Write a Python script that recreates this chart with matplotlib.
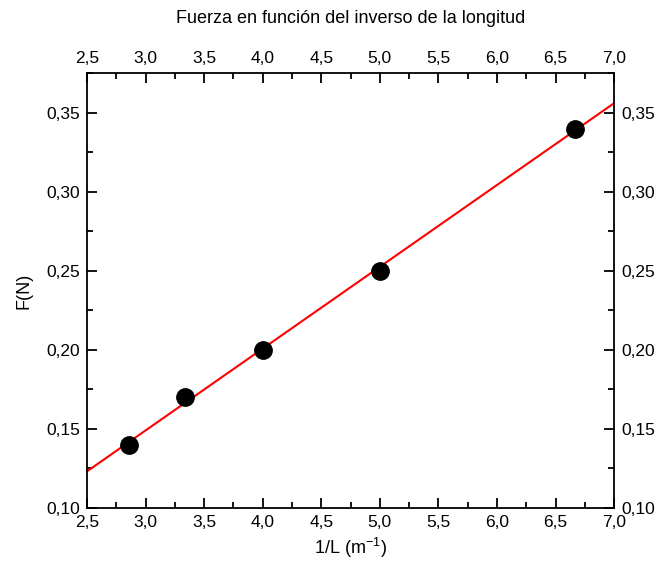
import numpy as np
import matplotlib.pyplot as plt
from matplotlib.ticker import MultipleLocator, FuncFormatter

plt.rcParams['font.family'] = ['Liberation Sans', 'DejaVu Sans']
plt.rcParams['mathtext.fontset'] = 'custom'
plt.rcParams['mathtext.rm'] = 'Liberation Sans'
plt.rcParams['mathtext.default'] = 'regular'

inv_L = [1 / 0.35, 1 / 0.30, 1 / 0.25, 1 / 0.20, 1 / 0.15]
F = [0.14, 0.17, 0.20, 0.25, 0.34]

# linear fit
m, b = np.polyfit(inv_L, F, 1)
xf = np.array([2.5, 7.0])

fig = plt.figure(figsize=(6.69, 5.72), dpi=100)
ax = fig.add_axes([0.130, 0.112, 0.788, 0.760])

ax.plot(xf, m * xf + b, '-', color='red', lw=1.5, zorder=2)
ax.plot(inv_L, F, 'o', color='black', markersize=12.5, zorder=3)

ax.set_xlim(2.5, 7.0)
ax.set_ylim(0.10, 0.375)

def comma(fmt):
    return FuncFormatter(lambda v, p: (fmt % v).replace('.', ','))

ax.xaxis.set_major_locator(MultipleLocator(0.5))
ax.xaxis.set_minor_locator(MultipleLocator(0.25))
ax.yaxis.set_major_locator(MultipleLocator(0.05))
ax.yaxis.set_minor_locator(MultipleLocator(0.025))
ax.xaxis.set_major_formatter(comma('%.1f'))
ax.yaxis.set_major_formatter(comma('%.2f'))

ax.tick_params(which='both', direction='in', top=True, right=True,
               labeltop=True, labelright=True, labelsize=12.5, width=1.3)
ax.tick_params(which='major', length=7, pad=5)
ax.tick_params(which='minor', length=4)
for s in ax.spines.values():
    s.set_linewidth(1.3)

ax.set_xlabel('1/L (m$^{-1}$)', fontsize=13)
ax.set_ylabel('F(N)', fontsize=13, labelpad=10)
ax.set_title('Fuerza en función del inverso de la longitud', fontsize=13, pad=36)

fig.savefig('out.png', dpi=100)
